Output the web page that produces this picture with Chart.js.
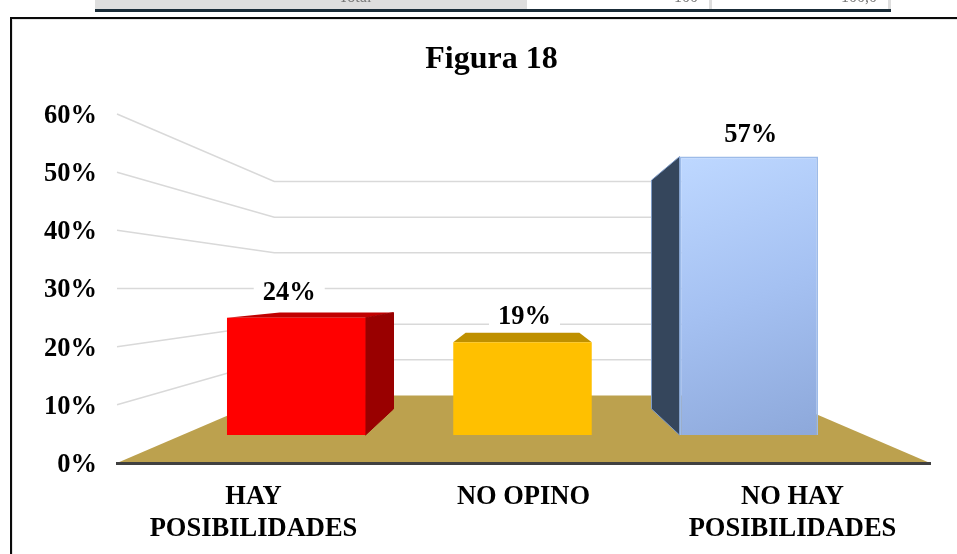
<!DOCTYPE html>
<html lang="es">
<head>
<meta charset="utf-8">
<title>Figura 18</title>
<script src="https://cdn.jsdelivr.net/npm/chart.js@4/dist/chart.umd.min.js"></script>
<style>
html,body{margin:0;padding:0;background:#fff;overflow:hidden}
canvas{display:block}
</style>
</head>
<body>
<canvas id="c" width="957" height="554"></canvas>
<script>
const chartTitle = 'Figura 18';
const categories = [['HAY', 'POSIBILIDADES'], 'NO OPINO', ['NO HAY', 'POSIBILIDADES']];
const values = [24, 19, 57];
const tickStep = 10;
const axisMax = 60;

const frontColors = ['#FF0000', '#FFC000', null];
const sideColors = ['#990000', '#BF9000', '#35465C'];
const topColors = ['#C00000', '#BF9000', '#8FAADC'];

const SERIF = '"Liberation Serif", "Times New Roman", serif';
const BAR_FRONT = 0.84, BAR_BACK = 0.69, WALL = 0.613;
const BAR_X_K = 0.994, BAR_X_SHIFT = -1;
const LABEL_NUDGE = [-7, 2, 2];
const LABEL_LIFT = [20, 16, 22];

function viewOf(chart) {
  const a = chart.chartArea;
  return { cx: (a.left + a.right) / 2, hy: chart.scales.y.getPixelForValue(axisMax / 2) };
}
function project(v, x, y, s) {
  return [v.cx + s * (x - v.cx), v.hy + s * (y - v.hy)];
}
function projectBar(v, x, y, s) {
  return [v.cx + BAR_X_SHIFT + s * BAR_X_K * (x - v.cx), v.hy + s * (y - v.hy)];
}
function poly(ctx, pts, fill, stroke) {
  ctx.beginPath();
  pts.forEach((p, i) => i ? ctx.lineTo(p[0], p[1]) : ctx.moveTo(p[0], p[1]));
  ctx.closePath();
  if (fill) { ctx.fillStyle = fill; ctx.fill(); }
  if (stroke) { ctx.strokeStyle = stroke; ctx.lineWidth = 1; ctx.stroke(); }
}
function shiftLabels(scale, chart, dxs, dy) {
  scale.getLabelItems(chart.chartArea).forEach((it, i) => {
    if (it.__moved) return;
    it.__moved = true;
    it.options.translation = [it.options.translation[0] + (dxs[i] || 0), it.options.translation[1] + dy];
  });
}

const pagePlugin = {
  id: 'page',
  afterLayout(chart) {
    // the tick labels are wider than the reserved box: do not clip them
    chart.scales.y.left = 30;
  },
  beforeDraw(chart) {
    shiftLabels(chart.scales.y, chart, [], 2);
    shiftLabels(chart.scales.x, chart, [1, 0, -2], 0);
    const ctx = chart.ctx;
    ctx.save();
    // remains of the table above the figure
    ctx.fillStyle = '#DEDEDE';
    ctx.fillRect(95, 0, 432, 9);
    ctx.fillRect(709, 0, 3, 9);
    ctx.fillRect(888, 0, 3, 9);
    ctx.fillStyle = '#1A2C38';
    ctx.fillRect(95, 9, 796, 3);
    ctx.fillStyle = '#777';
    ctx.font = '16px ' + SERIF;
    ctx.textBaseline = 'alphabetic';
    ctx.textAlign = 'center';
    ctx.fillText('Total', 355, 1.5);
    ctx.fillText('100', 686, 1.5);
    ctx.textAlign = 'right';
    ctx.fillText('100,0', 877, 1.5);
    // frame
    ctx.fillStyle = '#E4E4E4';
    ctx.fillRect(12, 19, 945, 1);
    ctx.fillRect(12, 19, 1, 535);
    ctx.fillStyle = '#0A0A0A';
    ctx.fillRect(10, 17, 947, 2);
    ctx.fillRect(10, 17, 2, 537);
    ctx.restore();
  }
};

const scenePlugin = {
  id: 'scene',
  beforeDatasetsDraw(chart) {
    const ctx = chart.ctx, v = viewOf(chart), a = chart.chartArea, y = chart.scales.y;
    ctx.save();
    // wall grid lines
    ctx.strokeStyle = '#D9D9D9';
    ctx.lineWidth = 1.5;
    y.ticks.forEach(t => {
      if (t.value === 0) return;
      const py = y.getPixelForValue(t.value);
      const b1 = project(v, a.left, py, WALL), b2 = project(v, a.right, py, WALL);
      ctx.beginPath();
      ctx.moveTo(a.left, py);
      ctx.lineTo(b1[0], b1[1]);
      ctx.lineTo(b2[0], b2[1]);
      ctx.stroke();
    });
    // floor
    const base = y.getPixelForValue(0);
    poly(ctx, [[a.left, base], project(v, a.left, base, WALL), project(v, a.right, base, WALL), [a.right, base]], '#BCA14E');
    // top and side faces of the bars
    chart.getDatasetMeta(0).data.forEach((bar, i) => {
      const L = bar.x - bar.width / 2, R = bar.x + bar.width / 2, T = bar.y, B = bar.base;
      const tl = projectBar(v, L, T, BAR_FRONT), tr = projectBar(v, R, T, BAR_FRONT);
      const tlb = projectBar(v, L, T, BAR_BACK), trb = projectBar(v, R, T, BAR_BACK);
      if (T > v.hy) poly(ctx, [tl, tr, trb, tlb], topColors[i]);
      const X = bar.x < v.cx - 1 ? R : (bar.x > v.cx + 1 ? L : null);
      if (X !== null) {
        poly(ctx, [projectBar(v, X, T, BAR_FRONT), projectBar(v, X, T, BAR_BACK),
                   projectBar(v, X, B, BAR_BACK), projectBar(v, X, B, BAR_FRONT)],
             sideColors[i], i === 2 ? '#7F9CC8' : sideColors[i]);
      }
    });
    ctx.restore();
    // the library draws the front faces on the bars' plane
    ctx.save();
    ctx.translate(v.cx + BAR_X_SHIFT, v.hy);
    ctx.scale(BAR_FRONT * BAR_X_K, BAR_FRONT);
    ctx.translate(-v.cx, -v.hy);
  },
  afterDatasetsDraw(chart) {
    chart.ctx.restore();
    const ctx = chart.ctx, v = viewOf(chart);
    ctx.save();
    ctx.font = 'bold 26.5px ' + SERIF;
    ctx.textAlign = 'center';
    ctx.textBaseline = 'middle';
    chart.getDatasetMeta(0).data.forEach((bar, i) => {
      const front = projectBar(v, bar.x, bar.y, BAR_FRONT);
      const back = projectBar(v, bar.x, bar.y, BAR_BACK);
      const lx = front[0] + LABEL_NUDGE[i];
      const ly = Math.min(front[1], back[1]) - LABEL_LIFT[i];
      const text = values[i] + '%';
      const w = ctx.measureText(text).width;
      ctx.fillStyle = '#fff';
      ctx.fillRect(lx - w / 2 - 9, ly - 13, w + 18, 26);
      ctx.fillStyle = '#000';
      ctx.fillText(text, lx, ly + 1);
    });
    ctx.restore();
  }
};

function blueFace(c) {
  const ch = c.chart;
  if (!ch.scales || !ch.scales.x || !ch.scales.y) return '#A6C1F0';
  const x = ch.scales.x.getPixelForValue(c.dataIndex);
  const top = ch.scales.y.getPixelForValue(values[c.dataIndex]);
  const bottom = ch.scales.y.getPixelForValue(0);
  const g = ch.ctx.createLinearGradient(x - 60, top, x + 60, bottom);
  g.addColorStop(0, '#BDD7FF');
  g.addColorStop(0.5, '#A5C1F2');
  g.addColorStop(1, '#8EA9DB');
  return g;
}

new Chart(document.getElementById('c'), {
  type: 'bar',
  data: {
    labels: categories,
    datasets: [{
      data: values,
      backgroundColor: c => frontColors[c.dataIndex] || blueFace(c),
      borderColor: c => frontColors[c.dataIndex] ? frontColors[c.dataIndex] : '#9DBBE8',
      borderWidth: c => frontColors[c.dataIndex] ? 0 : 2,
      barPercentage: 0.612,
      categoryPercentage: 1
    }]
  },
  plugins: [pagePlugin, scenePlugin],
  options: {
    responsive: false,
    animation: false,
    layout: { padding: { left: 53, right: 27, top: 0, bottom: 0 } },
    plugins: {
      legend: { display: false },
      tooltip: { enabled: false },
      title: {
        display: true,
        text: chartTitle,
        color: '#000',
        font: { family: SERIF, size: 32, weight: 'bold' },
        padding: { top: 40.8, bottom: 34.8 }
      }
    },
    scales: {
      x: {
        afterFit(s) { s.height = 91; },
        grid: { display: false, drawTicks: false },
        border: { display: true, color: '#404040', width: 3, z: 1 },
        ticks: { color: '#000', padding: 18, maxRotation: 0, minRotation: 0,
                  font: { family: SERIF, size: 26.5, weight: 'bold', lineHeight: 1.2 } }
      },
      y: {
        min: 0,
        max: axisMax,
        afterFit(s) { s.width = 64; },
        grid: { display: false, drawTicks: false },
        border: { display: false },
        ticks: { stepSize: tickStep, color: '#000', padding: 20,
                 callback: v => v + '%',
                 font: { family: SERIF, size: 26.5, weight: 'bold' } }
      }
    }
  }
});
</script>
</body>
</html>
